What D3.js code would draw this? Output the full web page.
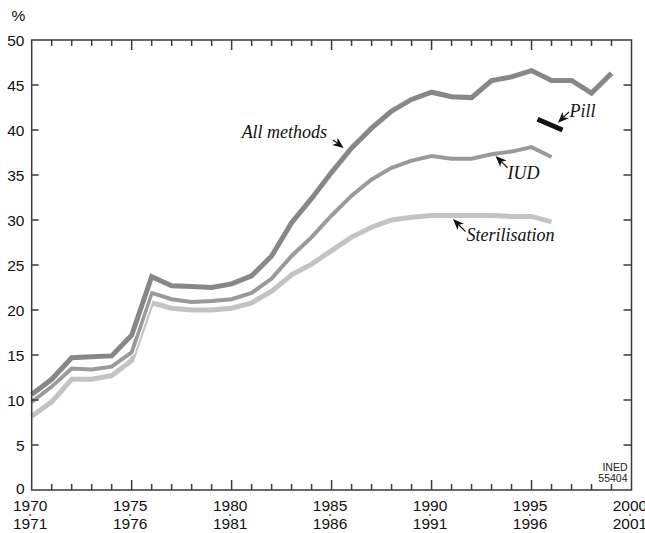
<!DOCTYPE html>
<html>
<head>
<meta charset="utf-8">
<script src="https://cdn.jsdelivr.net/npm/d3@7"></script>
<style>
  html, body { margin: 0; padding: 0; background: #fff; }
  svg { display: block; }
</style>
</head>
<body>
<svg id="chart" width="645" height="533"></svg>
<script>
// ---- Data ----
const years = [1970,1971,1972,1973,1974,1975,1976,1977,1978,1979,1980,1981,1982,1983,1984,1985,1986,1987,1988,1989,1990,1991,1992,1993,1994,1995,1996,1997,1998,1999];
const allMethods = [10.6,12.3,14.7,14.8,14.9,17.2,23.7,22.7,22.6,22.5,22.9,23.8,26.0,29.7,32.4,35.3,38.0,40.2,42.1,43.4,44.2,43.7,43.6,45.5,45.9,46.6,45.5,45.5,44.1,46.3];
const iudYears = years.slice(0, 27);
const iud = [9.8,11.5,13.5,13.4,13.7,15.3,21.9,21.2,20.9,21.0,21.2,21.9,23.5,26.0,28.1,30.5,32.7,34.5,35.8,36.6,37.1,36.8,36.8,37.3,37.6,38.1,37.0];
const sterYears = years.slice(0, 27);
const sterilisation = [8.2,9.8,12.3,12.3,12.7,14.4,20.8,20.2,20.0,20.0,20.2,20.8,22.1,23.9,25.1,26.6,28.1,29.2,30.0,30.3,30.5,30.5,30.5,30.5,30.4,30.4,29.8];
const pillYears = [1995.3, 1996.55];
const pill = [41.2, 40.0];
const yTicks = [0,5,10,15,20,25,30,35,40,45,50];
const xMajor = [1970,1975,1980,1985,1990,1995,2000];
const xLabelTop = ["1970","1975","1980","1985","1990","1995","2000"];
const xLabelBottom = ["1971","1976","1981","1986","1991","1996","2001"];
const labels = ["All methods","Pill","IUD","Sterilisation"];

// ---- Layout ----
const svg = d3.select("#chart");
const x = d3.scaleLinear().domain([1970, 2000]).range([31.7, 631.5]);
const y = d3.scaleLinear().domain([0, 50]).range([490, 40]);
const axisColor = "#3a3a3a";

// Series lines
const line = d3.line().x(d => x(d[0])).y(d => y(d[1])).curve(d3.curveLinear);
const series = [
  {ys: sterYears, vs: sterilisation, color: "#c3c3c3", w: 5},
  {ys: iudYears, vs: iud, color: "#9a9a9a", w: 4},
  {ys: years, vs: allMethods, color: "#878787", w: 5}
];
const gLines = svg.append("g");
series.forEach(s => {
  const pts = s.ys.map((yr, i) => [yr, s.vs[i]]);
  gLines.append("path").attr("d", line(pts)).attr("fill", "none")
    .attr("stroke", "#fff").attr("stroke-width", s.w + 2.5).attr("stroke-linejoin", "miter");
  gLines.append("path").attr("d", line(pts)).attr("fill", "none")
    .attr("stroke", s.color).attr("stroke-width", s.w).attr("stroke-linejoin", "miter");
});
// Pill segment
gLines.append("path").attr("d", line(pillYears.map((yr, i) => [yr, pill[i]])))
  .attr("fill", "none").attr("stroke", "#111").attr("stroke-width", 5);

// ---- Frame & ticks ----
const gAx = svg.append("g").attr("stroke", axisColor).attr("stroke-width", 1.5).attr("fill", "none");
gAx.append("rect").attr("x", x(1970)).attr("y", y(50))
  .attr("width", x(2000) - x(1970)).attr("height", y(0) - y(50));
const yearTicks = d3.range(1971, 2000);
yearTicks.forEach(yr => {
  const len = (yr % 5 === 0) ? 10 : 6;
  gAx.append("line").attr("x1", x(yr)).attr("x2", x(yr)).attr("y1", y(0)).attr("y2", y(0) - len);
  gAx.append("line").attr("x1", x(yr)).attr("x2", x(yr)).attr("y1", y(50)).attr("y2", y(50) + len);
});
yTicks.slice(1, -1).forEach(v => {
  gAx.append("line").attr("x1", x(1970)).attr("x2", x(1970) + 7).attr("y1", y(v)).attr("y2", y(v));
  gAx.append("line").attr("x1", x(2000)).attr("x2", x(2000) - 8).attr("y1", y(v)).attr("y2", y(v));
});

// ---- Tick labels ----
const font = "'Liberation Sans', Arial, Helvetica, sans-serif";
const gT = svg.append("g").attr("font-family", font).attr("font-size", 15.5).attr("fill", "#111");
yTicks.forEach(v => {
  gT.append("text").attr("x", 24.5).attr("y", y(v) - (v === 0 ? 2 : 0)).attr("dy", "0.36em")
    .attr("text-anchor", "end").text(v);
});
gT.append("text").attr("x", 11.5).attr("y", 20.5).text("%");
xMajor.forEach((yr, i) => {
  gT.append("text").attr("x", x(yr) - 1.5).attr("y", 510.5).attr("text-anchor", "middle").text(xLabelTop[i]);
  gT.append("text").attr("x", x(yr) - 1.5).attr("y", 528.5).attr("text-anchor", "middle").text(xLabelBottom[i]);
  svg.append("line").attr("x1", x(yr) - 2.5).attr("x2", x(yr) - 0.5).attr("y1", 515).attr("y2", 515)
    .attr("stroke", "#111").attr("stroke-width", 1.2);
});

// ---- Annotations ----
const ann = [
  {text: labels[0], tx: 1980.5, tv: 39.1, from: [1985.07, 38.9], to: [1985.6, 38.0]},
  {text: labels[1], tx: 1996.9, tv: 41.5, from: [1996.87, 42.0], to: [1996.32, 40.8]},
  {text: labels[2], tx: 1993.8, tv: 34.55, from: [1993.8, 35.8], to: [1993.2, 37.1]},
  {text: labels[3], tx: 1991.75, tv: 27.7, from: [1991.7, 28.7], to: [1991.07, 30.1]}
];
const gA = svg.append("g");
ann.forEach(a => {
  gA.append("text").attr("x", x(a.tx)).attr("y", y(a.tv))
    .attr("font-family", "'Liberation Serif', 'Times New Roman', serif")
    .attr("font-style", "italic").attr("font-size", 18).attr("fill", "#111").text(a.text);
  const x0 = x(a.from[0]), y0 = y(a.from[1]), x1 = x(a.to[0]), y1 = y(a.to[1]);
  const dx = x1 - x0, dy = y1 - y0, L = Math.hypot(dx, dy);
  const ux = dx / L, uy = dy / L, px = -uy, py = ux;
  const hl = 11, hw = 4.5;
  const bx = x1 - ux * hl, by = y1 - uy * hl;
  const nx = x1 - ux * (hl - 3), ny = y1 - uy * (hl - 3);
  gA.append("line").attr("x1", x0).attr("y1", y0).attr("x2", nx).attr("y2", ny)
    .attr("stroke", "#111").attr("stroke-width", 1.2);
  gA.append("path")
    .attr("d", `M${x1},${y1}L${bx + px * hw},${by + py * hw}L${nx},${ny}L${bx - px * hw},${by - py * hw}Z`)
    .attr("fill", "#111");
});

// ---- Source mark ----
const gS = svg.append("g").attr("font-family", "'Liberation Sans Narrow', 'Liberation Sans', Arial, sans-serif")
  .attr("font-size", 10.5).attr("fill", "#222").attr("text-anchor", "end");
gS.append("text").attr("x", 627.5).attr("y", 470.7).text("INED");
gS.append("text").attr("x", 627.5).attr("y", 481.7).text("55404");
</script>
</body>
</html>
